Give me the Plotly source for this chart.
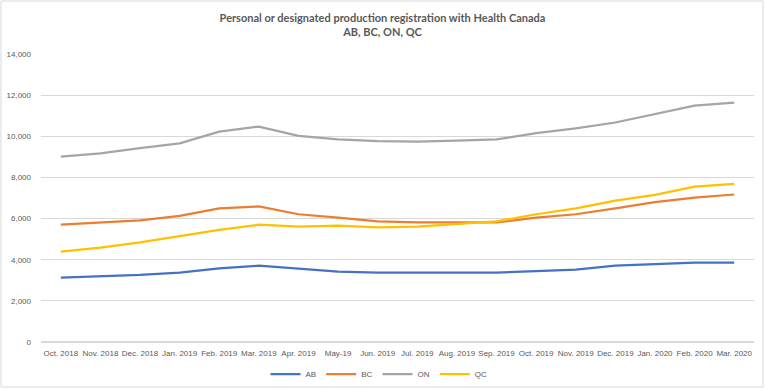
import plotly.graph_objects as go

months = ["Oct. 2018", "Nov. 2018", "Dec. 2018", "Jan. 2019", "Feb. 2019", "Mar. 2019",
          "Apr. 2019", "May-19", "Jun. 2019", "Jul. 2019", "Aug. 2019", "Sep. 2019",
          "Oct. 2019", "Nov. 2019", "Dec. 2019", "Jan. 2020", "Feb. 2020", "Mar. 2020"]

ab = [3130, 3180, 3260, 3370, 3580, 3710, 3580, 3420, 3370, 3370, 3370, 3370,
      3450, 3515, 3710, 3800, 3860, 3860]
bc = [5700, 5810, 5910, 6130, 6500, 6590, 6210, 6050, 5860, 5810, 5810, 5810,
      6050, 6210, 6500, 6800, 7020, 7170]
on = [9010, 9170, 9420, 9660, 10230, 10470, 10020, 9850, 9770, 9740, 9790, 9850,
      10150, 10390, 10670, 11090, 11490, 11640]
qc = [4390, 4590, 4840, 5130, 5450, 5700, 5610, 5660, 5570, 5610, 5740, 5860,
      6210, 6500, 6870, 7150, 7550, 7690]

series = [("AB", ab, "#4472C4"), ("BC", bc, "#ED7D31"),
          ("ON", on, "#A5A5A5"), ("QC", qc, "#FFC000")]

fig = go.Figure()
for name, vals, col in series:
    fig.add_trace(go.Scatter(x=months, y=vals, name=name, mode="lines",
                             line=dict(color=col, width=2.25)))

W, H = 765, 390
ml, mr, mt, mb = 41, 11, 54, 48
pw, ph = W - ml - mr, H - mt - mb

fig.update_layout(
    width=W, height=H,
    margin=dict(l=ml, r=mr, t=mt, b=mb, autoexpand=False),
    paper_bgcolor="white", plot_bgcolor="white",
    font=dict(family="Liberation Sans", color="#595959", size=9),
    title=dict(text="<b>Personal or designated production registration with Health Canada<br>AB, BC, ON, QC</b>",
               x=0.5, xanchor="center", y=1 - 22 / H, yanchor="top",
               font=dict(family="Lato", size=11, color="#595959")),
    xaxis=dict(type="category", showgrid=False, zeroline=False, showline=False,
               ticks="", tickangle=0, tickfont=dict(size=8, color="#595959"),
               range=[-0.5, len(months) - 0.5], automargin=False,
               ticklabelstandoff=5),
    yaxis=dict(range=[0, 14000], dtick=2000, tickformat=",d", showgrid=True,
               gridcolor="#D9D9D9", gridwidth=1, zeroline=True, zerolinecolor="#D9D9D9",
               showline=False, ticks="", tickfont=dict(size=8, color="#595959"),
               ticklabelstandoff=9, automargin=False),
    legend=dict(orientation="h", x=(379 - ml) / pw, xanchor="center", y=-32 / ph, yanchor="middle",
                font=dict(size=8, color="#595959"),
                bgcolor="rgba(0,0,0,0)"),
    showlegend=True,
    shapes=[dict(type="rect", xref="paper", yref="paper",
                 x0=-(ml - 1) / pw, x1=1 + (mr - 2) / pw,
                 y0=-(mb - 3) / ph, y1=1 + (mt - 1) / ph,
                 line=dict(color="#D9D9D9", width=1), fillcolor="rgba(0,0,0,0)", layer="below")],
)

fig.write_html("out.html", config={"displayModeBar": False},
               post_script="document.body.style.margin='0';")
